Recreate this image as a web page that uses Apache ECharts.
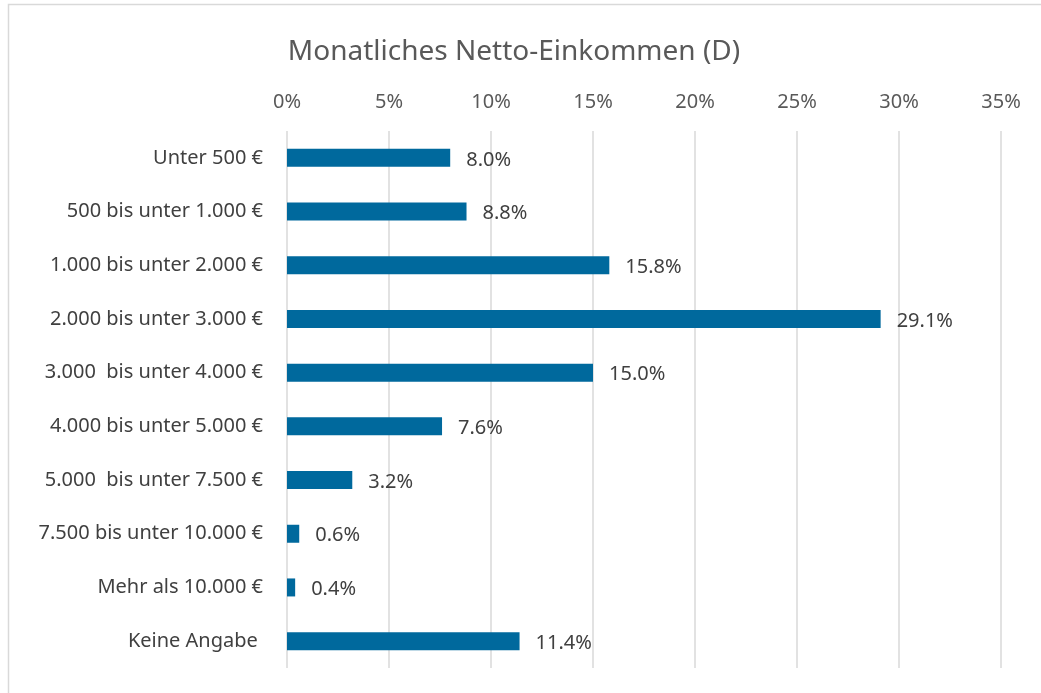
<!DOCTYPE html>
<html>
<head>
<meta charset="utf-8">
<script src="https://cdn.jsdelivr.net/npm/echarts@6/dist/echarts.min.js"></script>
<style>
  html, body { margin: 0; padding: 0; background: #fff; }
  #chart { width: 1041px; height: 693px; }
</style>
</head>
<body>
<div id="chart"></div>
<script>
// Einkommensklassen (von oben nach unten)
const categories = [
  'Unter 500 €',
  '500 bis unter 1.000 €',
  '1.000 bis unter 2.000 €',
  '2.000 bis unter 3.000 €',
  '3.000  bis unter 4.000 €',
  '4.000 bis unter 5.000 €',
  '5.000  bis unter 7.500 €',
  '7.500 bis unter 10.000 €',
  'Mehr als 10.000 €',
  'Keine Angabe '
]
// Anteile in Prozent
const shares = [8.0, 8.8, 15.8, 29.1, 15.0, 7.6, 3.2, 0.6, 0.4, 11.4]

const chart = echarts.init(document.getElementById('chart'))

chart.setOption({
  animation: false,
  textStyle: { fontFamily: 'Noto Sans' },
  graphic: [
    {
      type: 'rect',
      shape: { x: 8.5, y: 4.5, width: 1060, height: 720 },
      style: { fill: 'none', stroke: '#d9d9d9', lineWidth: 1.5 },
      silent: true
    }
  ],
  title: {
    text: 'Monatliches Netto-Einkommen (D)',
    left: 509,
    top: 33,
    textAlign: 'center',
    textStyle: {
      color: '#595959',
      fontSize: 28,
      fontWeight: 'normal'
    }
  },
  grid: {
    left: 287,
    right: 40,
    top: 131,
    bottom: 25,
    containLabel: false
  },
  xAxis: {
    type: 'value',
    position: 'top',
    min: 0,
    max: 35,
    interval: 5,
    axisLine: { show: false },
    axisTick: { show: false },
    axisLabel: {
      color: '#595959',
      fontSize: 20,
      margin: 19,
      formatter: '{value}%'
    },
    splitLine: { lineStyle: { color: '#d9d9d9', width: 1.5 } }
  },
  yAxis: {
    type: 'category',
    inverse: true,
    data: categories,
    axisLine: { show: false },
    axisTick: { show: false },
    axisLabel: {
      color: '#404040',
      fontSize: 20,
      margin: 24
    }
  },
  series: [
    {
      type: 'bar',
      data: shares,
      barWidth: 18,
      itemStyle: { color: '#00699d' },
      label: {
        show: true,
        position: 'right',
        distance: 16,
        offset: [0, 2],
        color: '#404040',
        fontSize: 20,
        formatter: (p) => p.value.toFixed(1) + '%'
      }
    }
  ]
})
</script>
</body>
</html>
